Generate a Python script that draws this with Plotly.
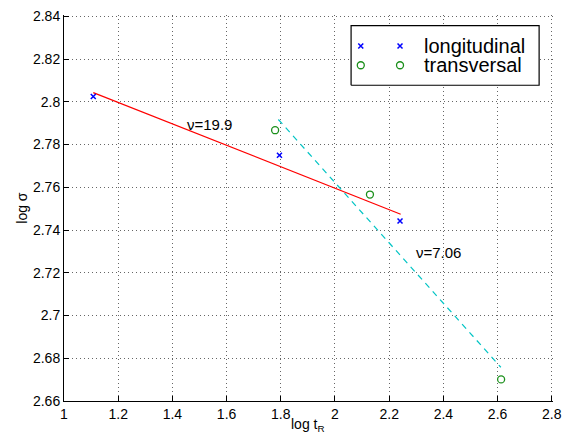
import plotly.graph_objects as go

# Data
long_x = [1.108, 1.795, 2.240]
long_y = [2.8025, 2.7750, 2.7442]
trans_x = [1.779, 2.129, 2.613]
trans_y = [2.7867, 2.7566, 2.6701]
fit_long_x = [1.108, 2.2425]
fit_long_y = [2.8043, 2.7474]
fit_trans_x = [1.791, 2.612]
fit_trans_y = [2.7917, 2.6758]
nu_labels = ["ν=19.9", "ν=7.06"]
nu_pos_x = [1.536, 2.383]
nu_pos_y = [2.7895, 2.7293]
x_ticks = [1, 1.2, 1.4, 1.6, 1.8, 2, 2.2, 2.4, 2.6, 2.8]
x_ticktext = ["1", "1.2", "1.4", "1.6", "1.8", "2", "2.2", "2.4", "2.6", "2.8"]
y_ticks = [2.66, 2.68, 2.7, 2.72, 2.74, 2.76, 2.78, 2.8, 2.82, 2.84]
y_ticktext = ["2.66", "2.68", "2.7", "2.72", "2.74", "2.76", "2.78", "2.8", "2.82", "2.84"]
legend_names = ["longitudinal", "transversal"]

FONT = "Liberation Sans, Arial, Helvetica, sans-serif"
OFF = 8  # default page body margin in the browser
W, H = 571 - OFF, 439 - OFF
ML, MR, MT, MB = 63.5 - OFF, 17.8, 14.7 - OFF, 38

X_MARK = dict(symbol="x-thin", size=5, line=dict(color="#0000ff", width=1.5))
O_MARK = dict(symbol="circle-open", size=7, color="#1a8f1a", line=dict(width=1.3))

fig = go.Figure()
fig.add_trace(go.Scatter(x=fit_long_x, y=fit_long_y, mode="lines",
                         line=dict(color="#ff0000", width=1.2), showlegend=False))
fig.add_trace(go.Scatter(x=fit_trans_x, y=fit_trans_y, mode="lines",
                         line=dict(color="#00c4c4", width=1.2, dash="6px,5px"), showlegend=False))
fig.add_trace(go.Scatter(x=long_x, y=long_y, mode="markers", marker=X_MARK, showlegend=False))
fig.add_trace(go.Scatter(x=trans_x, y=trans_y, mode="markers", marker=O_MARK, showlegend=False))

for t, xx, yy in zip(nu_labels, nu_pos_x, nu_pos_y):
    fig.add_annotation(x=xx, y=yy, text=t, showarrow=False, xanchor="center", yanchor="middle",
                       font=dict(family=FONT, size=15, color="black"))

# Manual legend (MATLAB style, marker at both ends of sample); pixel positions in reference coords
pw = W - ML - MR
ph = H - MT - MB
def px(xpix):
    return (xpix - OFF - ML) / pw
def py(ypix):
    return 1 - (ypix - OFF - MT) / ph

bx0, bx1, by0, by1 = px(351), px(539.3), py(85), py(25.3)
fig.add_trace(go.Scatter(x=[bx0, bx1, bx1, bx0, bx0], y=[by0, by0, by1, by1, by0],
                         xaxis="x2", yaxis="y2", mode="lines", fill="toself",
                         fillcolor="white", line=dict(color="black", width=1.2),
                         showlegend=False, hoverinfo="skip"))
leg_rows = [45.7, 65.0]
fig.add_trace(go.Scatter(x=[px(360.7), px(400)], y=[py(leg_rows[0])] * 2, xaxis="x2", yaxis="y2",
                         mode="markers", marker=X_MARK, showlegend=False, hoverinfo="skip"))
fig.add_trace(go.Scatter(x=[px(360.7), px(400)], y=[py(leg_rows[1])] * 2, xaxis="x2", yaxis="y2",
                         mode="markers", marker=O_MARK, showlegend=False, hoverinfo="skip"))
for name, r in zip(legend_names, leg_rows):
    fig.add_annotation(xref="paper", yref="paper", x=px(422), y=py(r), text=name, showarrow=False,
                       xanchor="left", yanchor="middle", align="left",
                       font=dict(family=FONT, size=20, color="black"))

# axis titles
fig.add_annotation(xref="paper", yref="paper", x=px(308), y=py(414), text="log t<sub>R</sub>",
                   showarrow=False, xanchor="center", yanchor="top",
                   font=dict(family=FONT, size=14, color="black"))
fig.add_annotation(xref="paper", yref="paper", x=px(22), y=py(208), text="log σ", textangle=-90,
                   showarrow=False, xanchor="center", yanchor="middle",
                   font=dict(family=FONT, size=14, color="black"))

axis_common = dict(showline=True, linecolor="black", linewidth=1, mirror=False,
                   ticks="inside", ticklen=5, tickcolor="black",
                   showgrid=True, gridcolor="rgba(0,0,0,0.6)", griddash="1px,3px", gridwidth=1,
                   zeroline=False, ticklabeloverflow="allow", automargin=False,
                   tickfont=dict(family=FONT, size=14, color="black"))
fig.update_layout(
    width=W, height=H,
    margin=dict(l=ML, r=MR, t=MT, b=MB, autoexpand=False),
    paper_bgcolor="white", plot_bgcolor="white",
    xaxis=dict(range=[1, 2.8045], tickvals=x_ticks, ticktext=x_ticktext, **axis_common),
    yaxis=dict(range=[2.66, 2.8406], tickvals=y_ticks, ticktext=y_ticktext, **axis_common),
    xaxis2=dict(range=[0, 1], overlaying="x", visible=False, anchor="y2"),
    yaxis2=dict(range=[0, 1], overlaying="y", visible=False, anchor="x2"),
    showlegend=False,
)
fig.write_html("out.html")
